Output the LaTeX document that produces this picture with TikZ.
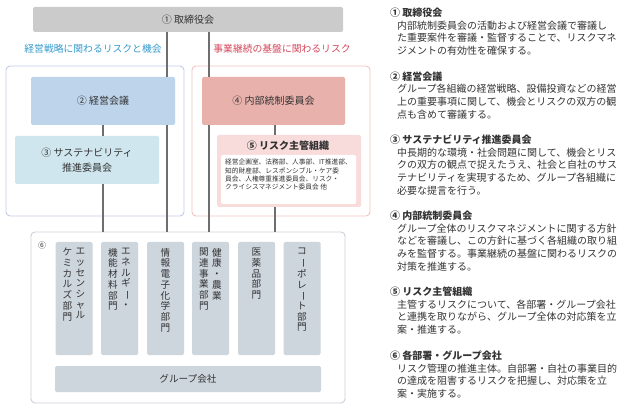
\documentclass[tikz,border=0pt]{standalone}
\usepackage{fontspec}
\usepackage{graphicx}
\setmainfont{Noto Sans CJK JP}
\usetikzlibrary{calc}
\usetikzlibrary{positioning}

\definecolor{txt}{HTML}{333333}
\definecolor{boardgray}{HTML}{CBCBCB}
\definecolor{linegray}{HTML}{6E6E6E}
\definecolor{oppblue}{HTML}{3399CC}
\definecolor{riskred}{HTML}{D4475C}
\definecolor{frameblue}{HTML}{C5CAEA}
\definecolor{framered}{HTML}{F2C2C2}
\definecolor{mgmtfill}{HTML}{BDD4EB}
\definecolor{iccfill}{HTML}{E8B1AC}
\definecolor{sustfill}{HTML}{CFE6EE}
\definecolor{riskfill}{HTML}{F8DCDC}
\definecolor{divfill}{HTML}{CDD5DD}
\definecolor{divframe}{HTML}{CBD0D8}

\newcommand{\vbar}{\rotatebox[origin=c]{-90}{ー}}

\tikzset{
	box/.style={rounded corners=1.5pt,inner sep=0pt,text=txt,align=center},
	frame/.style={rounded corners=4pt,line width=0.9pt,fill=white},
	link/.style={draw=linegray,line width=1.2pt},
	vcol/.style={anchor=north,inner sep=0pt,text=txt,align=center,font=\fontsize{9.6}{10.7}\selectfont},
	ttl/.style={anchor=west,inner sep=0pt,text=txt,font=\fontsize{10}{12.7}\selectfont\bfseries},
	body/.style={anchor=north west,inner sep=0pt,text=txt,align=left,font=\fontsize{10}{12.7}\selectfont}
}

\begin{document}
\begin{tikzpicture}[x=1pt,y=-1pt]
			\useasboundingbox (0,0) rectangle (624,414);
			%print outer frames
			\draw[frame,draw=frameblue] (6,66) rectangle (184,216);
			\draw[frame,draw=framered] (192,66) rectangle (370,216);
			\draw[frame,draw=divframe] (31,232) rectangle (345,403);
			\node[inner sep=0pt] (frame6) at (188,232) {};
			%board and committees
			\node[box,fill=boardgray,minimum width=310pt,minimum height=25pt,font=\fontsize{10}{12}\selectfont] (board) at (188,19.5) {① 取締役会};
			\node[text=oppblue,inner sep=0pt,font=\fontsize{9.8}{12}\selectfont] (opp) at (93,49) {経営戦略に関わるリスクと機会};
			\node[text=riskred,inner sep=0pt,font=\fontsize{9.8}{12}\selectfont] (bcp) at (282,49) {事業継続の基盤に関わるリスク};
			\node[box,fill=mgmtfill,minimum width=144pt,minimum height=48pt,font=\fontsize{10}{12}\selectfont] (mgmt) at (103,101) {② 経営会議};
			\node[box,fill=iccfill,minimum width=143pt,minimum height=48pt,font=\fontsize{10}{12}\selectfont] (icc) at (273.5,101) {④ 内部統制委員会};
			\node[box,fill=sustfill,minimum width=144pt,minimum height=48pt,font=\fontsize{10}{15.5}\selectfont] (sust) at (87,160) {③ サステナビリティ\\推進委員会};
			\node[box,fill=riskfill,minimum width=144pt,minimum height=72pt] (riskorg) at (289,171) {};
			\node[inner sep=0pt,text=txt,font=\fontsize{10}{12}\selectfont\bfseries] (risktitle) at (288,146) {⑤ リスク主管組織};
			\node[box,fill=white,minimum width=135pt,minimum height=49pt] (risklist) at (288.5,179.5) {};
			\node[body,font=\fontsize{6.7}{8.3}\selectfont] (riskdepts) at (225,159) {経営企画室、法務部、人事部、IT推進部、\\知的財産部、レスポンシブル・ケア委\\員会、人権尊重推進委員会、リスク・\\クライシスマネジメント委員会 他};
			%connector lines
			\coordinate (xa) at (103,0);
			\coordinate (xb) at (167,0);
			\coordinate (xc) at (209,0);
			\coordinate (xd) at (275,0);
			\draw[link] (board.south -| xb) -- (mgmt.north -| xb);
			\draw[link] (board.south -| xc) -- (icc.north -| xc);
			\draw[link] (mgmt.south -| xa) -- (sust.north -| xa);
			\draw[link] (sust.south -| xa) -- (frame6 -| xa);
			\draw[link] (mgmt.south -| xb) -- (frame6 -| xb);
			\draw[link] (icc.south -| xc) -- (frame6 -| xc);
			\draw[link] (icc.south -| xd) -- (riskorg.north -| xd);
			\draw[link] (riskorg.south -| xd) -- (frame6 -| xd);
			%departments
			\node[inner sep=0pt,text=txt,font=\fontsize{8}{10}\selectfont] (six) at (42,245) {⑥};
			\foreach \x/\n in {74/1,119.5/2,165.5/3,210.5/4,256.5/5,302/6}
				\node[box,fill=divfill,minimum width=37pt,minimum height=113pt] (div\n) at (\x,298.5) {};
			\node[vcol] (d1a) at (80.5,248) {エ\\ッ\\セ\\ン\\シ\\ャ\\ル};
			\node[vcol] (d1b) at (67.5,248) {ケ\\ミ\\カ\\ル\\ズ\\部\\門};
			\node[vcol] (d2a) at (126,248) {エ\\ネ\\ル\\ギ\\\vbar\\・};
			\node[vcol] (d2b) at (113,248) {機\\能\\材\\料\\部\\門};
			\node[vcol] (d3) at (165.5,248) {情\\報\\電\\子\\化\\学\\部\\門};
			\node[vcol] (d4a) at (217,248) {健\\康\\・\\農\\業};
			\node[vcol] (d4b) at (204,248) {関\\連\\事\\業\\部\\門};
			\node[vcol] (d5) at (256.5,248) {医\\薬\\品\\部\\門};
			\node[vcol] (d6) at (302,248) {コ\\\vbar\\ポ\\レ\\\vbar\\ト\\部\\門};
			\node[box,fill=divfill,minimum width=266pt,minimum height=26pt,font=\fontsize{9.6}{12}\selectfont] (group) at (188,379) {グループ会社};
			%notes
			\node[ttl] (t1) at (390,13) {① 取締役会};
			\node[body] (b1) at (397,20.5) {内部統制委員会の活動および経営会議で審議し\\た重要案件を審議・監督することで、リスクマネ\\ジメントの有効性を確保する。};
			\node[ttl] (t2) at (390,76.5) {② 経営会議};
			\node[body] (b2) at (397,84) {グループ各組織の経営戦略、設備投資などの経営\\上の重要事項に関して、機会とリスクの双方の観\\点も含めて審議する。};
			\node[ttl] (t3) at (390,140) {③ サステナビリティ推進委員会};
			\node[body] (b3) at (397,147.5) {中長期的な環境・社会問題に関して、機会とリス\\クの双方の観点で捉えたうえ、社会と自社のサス\\テナビリティを実現するため、グループ各組織に\\必要な提言を行う。};
			\node[ttl] (t4) at (390,216) {④ 内部統制委員会};
			\node[body] (b4) at (397,223.5) {グループ全体のリスクマネジメントに関する方針\\などを審議し、この方針に基づく各組織の取り組\\みを監督する。事業継続の基盤に関わるリスクの\\対策を推進する。};
			\node[ttl] (t5) at (390,292) {⑤ リスク主管組織};
			\node[body] (b5) at (397,299.5) {主管するリスクについて、各部署・グループ会社\\と連携を取りながら、グループ全体の対応策を立\\案・推進する。};
			\node[ttl] (t6) at (390,356) {⑥ 各部署・グループ会社};
			\node[body] (b6) at (397,363.5) {リスク管理の推進主体。自部署・自社の事業目的\\の達成を阻害するリスクを把握し、対応策を立\\案・実施する。};
		\end{tikzpicture}
\end{document}
